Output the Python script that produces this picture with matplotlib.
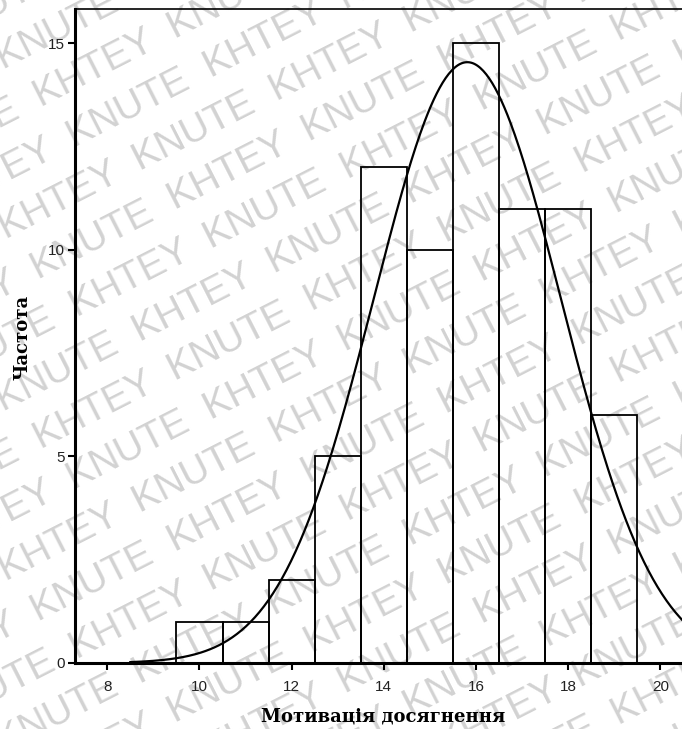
import numpy as np
import matplotlib
matplotlib.use("Agg")
import matplotlib.pyplot as plt

# Data
bin_centers = [10, 11, 12, 13, 14, 15, 16, 17, 18, 19]
counts = [1, 1, 2, 5, 12, 10, 15, 11, 11, 6]
mean_val = 15.81
std_val = 2.03
xticks = [8, 10, 12, 14, 16, 18, 20]
yticks = [0, 5, 10, 15]
xlabel = "Мотивація досягнення"
ylabel = "Частота"
watermark_words = ["KNUTE", "KHTEY"]

W, H = 682, 729
fig = plt.figure(figsize=(W / 100, H / 100), dpi=100)
fig.patch.set_facecolor("white")

# watermark (pixel-based placement)
angle = 27
row_gap = 57
ca, sa = np.cos(np.radians(angle)), np.sin(np.radians(angle))
for k in range(-16, 14):
    words = watermark_words if k % 2 == 0 else watermark_words[::-1]
    line = ("  ".join(words) + "  ") * 6
    shift = -(k % 3) * 40
    x0 = -60 + shift * ca
    y0 = k * row_gap + shift * sa
    fig.text(x0 / W, y0 / H, line, rotation=angle, fontsize=28,
             color="#d2d2d2", family="Liberation Sans", ha="left", va="baseline",
             rotation_mode="anchor", zorder=0)

# axes: left at x=75px, bottom at y=663px, top at y=9px; right beyond image
x_left, x_right = 7.3, 21.0
px_per_unit = 46.1
ax_left = 75 / W
ax_width = (x_right - x_left) * px_per_unit / W
ax = fig.add_axes([ax_left, (H - 663) / H, ax_width, (663 - 9) / H])
ax.patch.set_alpha(0)
ax.set_zorder(2)

ax.bar(bin_centers, counts, width=1.0, facecolor="none", edgecolor="black",
       linewidth=1.3, zorder=3)

xs = np.linspace(8.5, 21.5, 400)
n = sum(counts)
ys = n / (std_val * np.sqrt(2 * np.pi)) * np.exp(-0.5 * ((xs - mean_val) / std_val) ** 2)
ax.plot(xs, ys, color="black", linewidth=1.6, zorder=4)

ax.set_xlim(x_left, x_right)
ax.set_ylim(0, 15.83)
ax.set_xticks(xticks)
ax.set_yticks(yticks)
ax.tick_params(axis="both", direction="out", length=5, width=1.5,
               labelsize=11, labelcolor="#222222")
ax.tick_params(axis="x", pad=7)
ax.tick_params(axis="y", pad=2)
for lab in ax.get_xticklabels() + ax.get_yticklabels():
    lab.set_family("Liberation Sans")
ax.spines["left"].set_linewidth(2.2)
ax.spines["bottom"].set_linewidth(2.2)
ax.spines["top"].set_linewidth(1.2)
ax.spines["right"].set_visible(False)

fig.text(383 / W, 1 - 717 / H, xlabel, fontsize=13, fontweight="bold",
         family="DejaVu Serif", ha="center", va="center")
fig.text(22 / W, 1 - 337 / H, ylabel, fontsize=13, fontweight="bold",
         family="DejaVu Serif", ha="center", va="center", rotation=90)

fig.savefig("out.png", dpi=100)
